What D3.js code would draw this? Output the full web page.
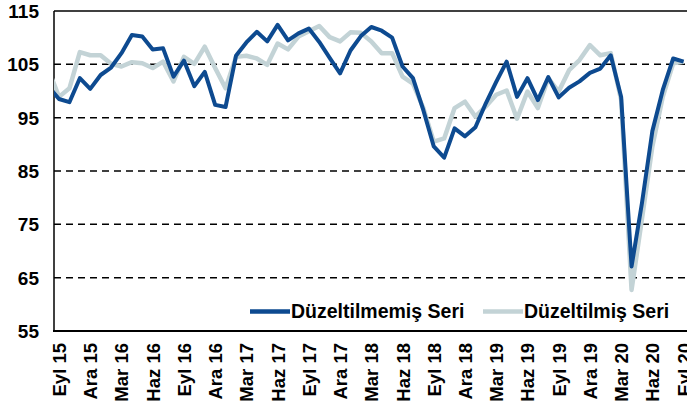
<!DOCTYPE html>
<html lang="tr">
<head>
  <meta charset="UTF-8">
  <title>Düzeltilmiş / Düzeltilmemiş Seri</title>
  <script src="https://d3js.org/d3.v7.min.js"></script>
  <style>
    body { margin: 0; background: #fff; }
    text { font-family: Arial, "Liberation Sans", sans-serif; font-weight: bold; fill: #000; }
  </style>
</head>
<body>
  <script>
    const width = 687, height = 405;
    const margin = { top: 11, right: 0, bottom: 74, left: 54 };

    // months from Ağu 15 to Eyl 20 (first one sits just left of the axis)
    const monthNames = ['Oca', 'Şub', 'Mar', 'Nis', 'May', 'Haz', 'Tem', 'Ağu', 'Eyl', 'Eki', 'Kas', 'Ara'];
    const categories = d3.range(62).map(k => monthNames[(7 + k) % 12] + ' ' + (15 + Math.floor((7 + k) / 12)));

    const tickLabels = ['Eyl 15', 'Ara 15', 'Mar 16', 'Haz 16', 'Eyl 16', 'Ara 16', 'Mar 17', 'Haz 17',
      'Eyl 17', 'Ara 17', 'Mar 18', 'Haz 18', 'Eyl 18', 'Ara 18', 'Mar 19', 'Haz 19', 'Eyl 19',
      'Ara 19', 'Mar 20', 'Haz 20', 'Eyl 20'];
    const yTicks = [55, 65, 75, 85, 95, 105, 115];

    const unadjusted = [100.8,
      98.5, 97.9, 102.4, 100.4, 103.0, 104.4, 107.1, 110.5, 110.2, 107.8, 108.0, 102.7,
      105.7, 100.9, 103.6, 97.4, 97.0, 106.6, 109.1, 111.1, 109.3, 112.4, 109.5, 110.8,
      111.7, 109.2, 106.2, 103.3, 107.6, 110.3, 112.0, 111.3, 110.0, 104.6, 102.4, 96.4,
      89.6, 87.5, 93.0, 91.5, 93.2, 97.7, 101.7, 105.5, 98.9, 102.4, 98.3, 102.6,
      98.8, 100.6, 101.8, 103.4, 104.2, 106.7, 98.9, 67.1, 79.0, 92.5, 100.2, 106.1,
      105.5];
    const adjusted = [103.9,
      98.9, 100.5, 107.3, 106.7, 106.7, 105.1, 104.6, 105.4, 105.2, 104.3, 105.5, 101.8,
      106.4, 105.1, 108.3, 104.3, 100.5, 106.4, 106.6, 106.1, 104.9, 108.9, 107.8, 110.2,
      111.2, 112.2, 110.1, 109.3, 111.0, 110.9, 109.3, 107.1, 107.1, 102.7, 101.4, 96.8,
      90.5, 91.1, 96.8, 98.0, 95.2, 97.1, 99.3, 100.1, 94.8, 99.9, 96.8, 102.4,
      99.9, 103.9, 105.8, 108.6, 106.7, 107.1, 98.3, 62.7, 76.0, 89.6, 98.9, 105.2,
      105.5];

    const svg = d3.select('body')
      .append('svg')
      .attr('width', width)
      .attr('height', height);

    const x = d3.scalePoint().domain(categories).range([48.6, 683.6]);
    const y = d3.scaleLinear().domain([55, 115]).range([height - margin.bottom, margin.top]);

    const left = margin.left, right = width - margin.right;

    // dashed grid
    svg.append('g')
      .selectAll('line')
      .data(yTicks.filter(d => d > 55 && d < 115))
      .join('line')
      .attr('x1', left).attr('x2', right)
      .attr('y1', d => y(d)).attr('y2', d => y(d))
      .attr('stroke', '#000')
      .attr('stroke-width', 1.5)
      .attr('stroke-dasharray', '7,5');

    // frame: top, left, bottom
    svg.append('line').attr('x1', left).attr('x2', right).attr('y1', y(115)).attr('y2', y(115))
      .attr('stroke', '#000').attr('stroke-width', 1.5);
    svg.append('line').attr('x1', left).attr('x2', left).attr('y1', y(115)).attr('y2', y(55))
      .attr('stroke', '#000').attr('stroke-width', 1.5);
    svg.append('line').attr('x1', left - 1).attr('x2', right).attr('y1', y(55)).attr('y2', y(55))
      .attr('stroke', '#000').attr('stroke-width', 2);

    // y labels
    const yAxis = d3.axisLeft(y).tickValues(yTicks).tickSize(0).tickPadding(0);
    svg.append('g')
      .attr('transform', 'translate(39, 0)')
      .call(yAxis)
      .call(g => g.select('.domain').remove())
      .selectAll('text')
      .attr('font-size', 19)
      .attr('font-family', null)
      .attr('dy', '0.35em');

    // x labels, rotated
    const xAxis = d3.axisBottom(x).tickValues(tickLabels).tickSize(0);
    svg.append('g')
      .attr('transform', `translate(0, ${y(55) + 12})`)
      .call(xAxis)
      .call(g => g.select('.domain').remove())
      .selectAll('text')
      .attr('font-size', 18.5)
      .attr('font-family', null)
      .attr('text-anchor', 'end')
      .attr('transform', 'rotate(-90)')
      .attr('x', 0).attr('y', 0)
      .attr('dy', '0.35em');

    // lines
    svg.append('clipPath').attr('id', 'plot')
      .append('rect').attr('x', left).attr('y', 0).attr('width', right - left).attr('height', height);

    const line = d3.line().x((d, i) => x(categories[i])).y(d => y(d));

    const series = [
      { name: 'Düzeltilmiş Seri', values: adjusted, color: '#c3d3d6', w: 4.5 },
      { name: 'Düzeltilmemiş Seri', values: unadjusted, color: '#0d4a90', w: 4 }
    ];

    svg.append('g').attr('clip-path', 'url(#plot)')
      .selectAll('path')
      .data(series)
      .join('path')
      .attr('d', d => line(d.values))
      .attr('fill', 'none')
      .attr('stroke', d => d.color)
      .attr('stroke-width', d => d.w)
      .attr('stroke-linejoin', 'round');

    // legend
    const legend = [
      { name: 'Düzeltilmemiş Seri', color: '#0d4a90', x: 250 },
      { name: 'Düzeltilmiş Seri', color: '#c3d3d6', x: 483 }
    ];
    const lg = svg.append('g').selectAll('g').data(legend).join('g')
      .attr('transform', d => `translate(${d.x}, 311.5)`);
    lg.append('line').attr('x1', 0).attr('x2', 40)
      .attr('stroke', d => d.color).attr('stroke-width', 4.5);
    lg.append('text').attr('x', 41).attr('dy', '0.35em')
      .attr('font-size', 19.5)
      .text(d => d.name);
  </script>
</body>
</html>
